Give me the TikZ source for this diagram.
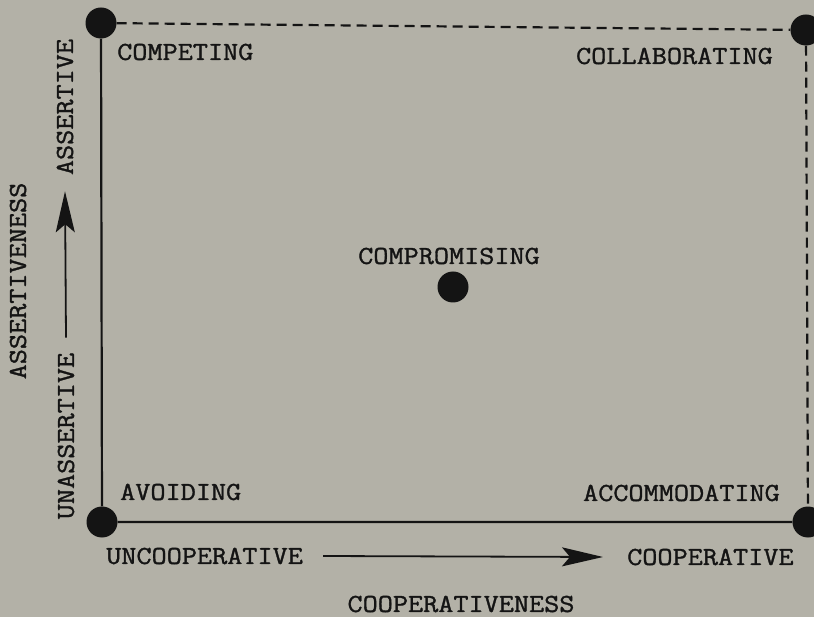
\documentclass[tikz,border=0pt]{standalone}
\usepackage{fontspec}
\setmonofont[FakeStretch=1.13, FakeBold=1.3]{Latin Modern Mono}
\usetikzlibrary{arrows.meta,positioning}
\definecolor{paper}{HTML}{B3B1A7}
\definecolor{ink}{HTML}{141414}

\begin{document}
\begin{tikzpicture}[x=1pt, y=-1pt,
  dot/.style={circle, fill=ink, inner sep=0pt, minimum size=31pt},
  lbl/.style={font=\fontsize{26}{30}\selectfont\ttfamily, text=ink, inner sep=0pt},
  solidaxis/.style={draw=ink, line width=2.2pt},
  dashaxis/.style={draw=ink, line width=2.2pt, dash pattern=on 10pt off 6pt},
  arrow/.style={draw=ink, -{Stealth[length=41pt, width=19pt, inset=8pt]}, line width=1.8pt}
]

% paper and page size
\fill[paper] (0,0) rectangle (814,617);
\useasboundingbox (0,0) rectangle (814,617);

% corner and centre points
\node[dot] (tl) at (101,23) {};
\node[dot] (tr) at (806,30) {};
\node[dot] (bl) at (102,522) {};
\node[dot] (br) at (808,522) {};
\node[dot] (mid) at (453,287) {};

\draw[solidaxis] (tl) -- (bl) -- (br);
\draw[dashaxis] (tl) -- (tr) -- (br);

% the five modes
\node[lbl, anchor=west] (competing) at (117,52) {COMPETING};
\node[lbl, anchor=east] (collab) at (773,56) {COLLABORATING};
\node[lbl] (compromising) at (449,256) {COMPROMISING};
\node[lbl, anchor=west] (avoiding) at (120,492) {AVOIDING};
\node[lbl, anchor=east] (accom) at (780,493) {ACCOMMODATING};

% horizontal axis
\node[lbl, anchor=west] (uncoop) at (106,556) {UNCOOPERATIVE};
\node[lbl, anchor=west] (coop) at (627,557) {COOPERATIVE};
\node[lbl] (cooperativeness) at (461,604) {COOPERATIVENESS};
\draw[arrow] ([xshift=20pt]uncoop.east) -- ([xshift=-24pt]coop.west);

% vertical axis
\node[lbl, rotate=90] (unassert) at (66,436) {UNASSERTIVE};
\node[lbl, rotate=90] (assert) at (65,107) {ASSERTIVE};
\node[lbl, rotate=90] (assertiveness) at (18,281) {ASSERTIVENESS};
\draw[arrow] ([yshift=15pt]unassert.east) -- ([yshift=-16pt]assert.west);

\end{tikzpicture}
\end{document}
